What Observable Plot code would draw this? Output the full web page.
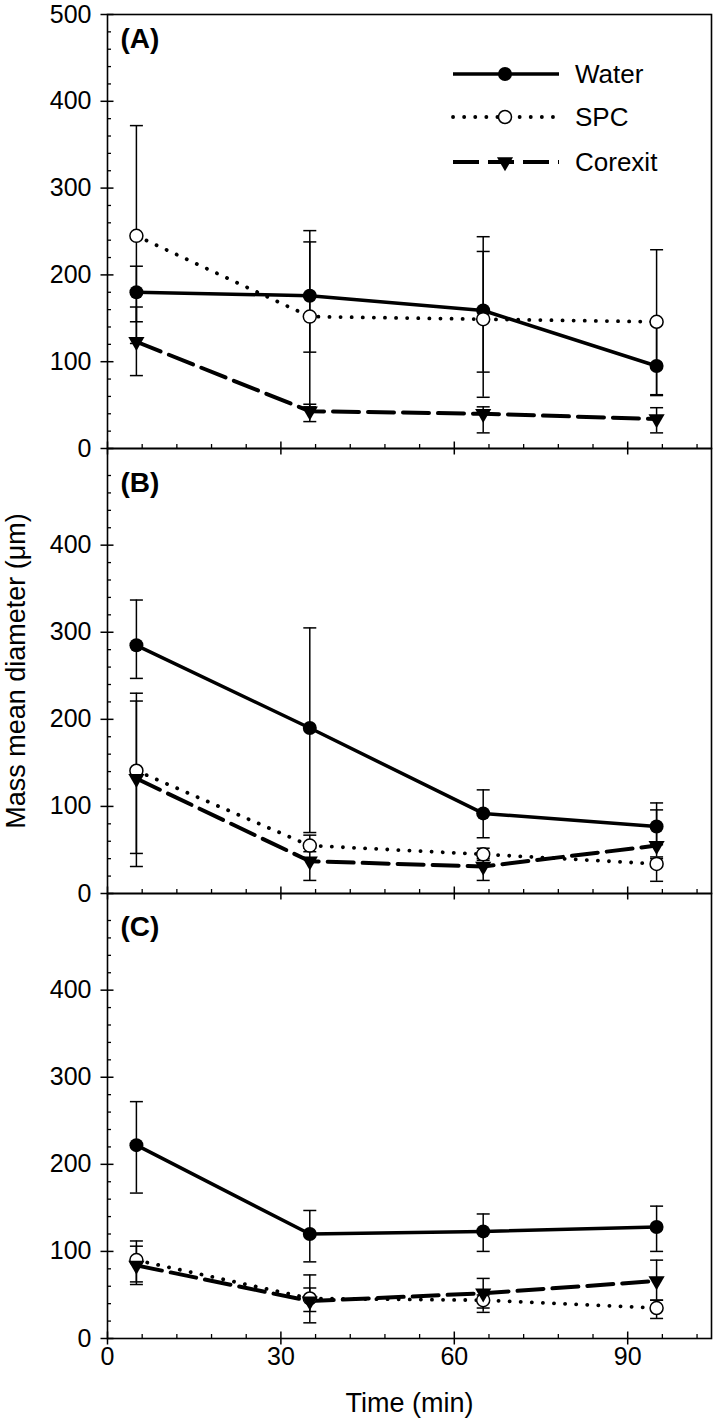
<!DOCTYPE html>
<html>
<head>
<meta charset="utf-8">
<script src="https://cdn.jsdelivr.net/npm/d3@7"></script>
<script src="https://cdn.jsdelivr.net/npm/@observablehq/plot@0.6"></script>
<style>
  html, body { margin: 0; padding: 0; background: white; }
  #fig { position: relative; width: 714px; height: 1419px; font-family: "Liberation Sans", Arial, sans-serif; }
  #fig > svg { position: absolute; left: 0; }
</style>
</head>
<body>
<div id="fig"></div>
<script>
// ---- data ----
const times = [5, 35, 65, 95];
const seriesNames = ["Water", "SPC", "Corexit"];
const panelLabels = ["(A)", "(B)", "(C)"];

// Panel A
const waterA = [180, 176, 159, 95];
const waterALo = [146, 111, 88, 61];
const waterAHi = [210, 251, 244, 145];
const spcA = [245, 152, 149, 146];
const spcALo = [121, 48, 59, 62];
const spcAHi = [372, 238, 227, 229];
const corA = [123, 43, 40, 34];
const corALo = [84, 31, 18, 18];
const corAHi = [163, 51, 48, 47];

// Panel B
const waterB = [285, 190, 92, 77];
const waterBLo = [247, 70, 64, 56];
const waterBHi = [337, 305, 119, 104];
const spcB = [141, 55, 45, 34];
const spcBLo = [46, 48, 38, 14];
const spcBHi = [230, 67, 52, 40];
const corB = [132, 37, 31, 55];
const corBLo = [31, 15, 15, 42];
const corBHi = [221, 52, 40, 96];

// Panel C
const waterC = [222, 120, 123, 128];
const waterCLo = [167, 88, 100, 100];
const waterCHi = [272, 147, 143, 152];
const spcC = [90, 46, 44, 35];
const spcCLo = [62, 31, 30, 23];
const spcCHi = [112, 58, 50, 44];
const corC = [84, 43, 52, 66];
const corCLo = [65, 18, 35, 44];
const corCHi = [106, 73, 69, 90];

const xTicks = [0, 30, 60, 90];
const xMinorTicks = [6, 12, 18, 24, 36, 42, 48, 54, 66, 72, 78, 84, 96, 102];
const yTicksA = [0, 100, 200, 300, 400, 500];
const yTicksBC = [0, 100, 200, 300, 400];
const yMinorTicks = [20, 40, 60, 80, 120, 140, 160, 180, 220, 240, 260, 280, 320, 340, 360, 380, 420, 440, 460, 480];

// ---- build tables ----
function rowsFor(vals, lo, hi, s) {
  return times.map((t, i) => ({t, v: vals[i], lo: lo[i], hi: hi[i], s}));
}
const panels = [
  {label: panelLabels[0], ymax: 500, yTicks: yTicksA, top: 0, height: 448, mt: 14, mb: 0, labelDy: 25,
   rows: [rowsFor(waterA, waterALo, waterAHi, "Water"), rowsFor(spcA, spcALo, spcAHi, "SPC"), rowsFor(corA, corALo, corAHi, "Corexit")]},
  {label: panelLabels[1], ymax: 511, yTicks: yTicksBC, top: 448, height: 445, mt: 0, mb: 0, labelDy: 35,
   rows: [rowsFor(waterB, waterBLo, waterBHi, "Water"), rowsFor(spcB, spcBLo, spcBHi, "SPC"), rowsFor(corB, corBLo, corBHi, "Corexit")]},
  {label: panelLabels[2], ymax: 511, yTicks: yTicksBC, top: 893, height: 526, mt: 0, mb: 81, labelDy: 34,
   rows: [rowsFor(waterC, waterCLo, waterCHi, "Water"), rowsFor(spcC, spcCLo, spcCHi, "SPC"), rowsFor(corC, corCLo, corCHi, "Corexit")]}
];

const capSymbol = {draw(ctx, size) { const w = 6.5; ctx.moveTo(-w, 0); ctx.lineTo(w, 0); }};
const FONT = "Liberation Sans, Arial, sans-serif";
const blank = () => "";

const fig = document.getElementById("fig");

panels.forEach((p, idx) => {
  const [water, spc, cor] = p.rows;
  const all = [...water, ...spc, ...cor];
  const marks = [
    // error bars
    Plot.ruleX(all, {x: "t", y1: "lo", y2: "hi", stroke: "black", strokeWidth: 1.5}),
    Plot.dot(all, {x: "t", y: "lo", symbol: capSymbol, r: 5, fill: "none", stroke: "black", strokeWidth: 1.5}),
    Plot.dot(all, {x: "t", y: "hi", symbol: capSymbol, r: 5, fill: "none", stroke: "black", strokeWidth: 1.5}),
    // lines
    Plot.line(water, {x: "t", y: "v", stroke: "black", strokeWidth: 3.5}),
    Plot.line(spc, {x: "t", y: "v", stroke: "black", strokeWidth: 3.8, strokeDasharray: "0.1,11", strokeLinecap: "round"}),
    Plot.line(cor, {x: "t", y: "v", stroke: "black", strokeWidth: 4, strokeDasharray: "26,9"}),
    // markers
    Plot.dot(water, {x: "t", y: "v", r: 7, fill: "black", stroke: "none"}),
    Plot.dot(spc, {x: "t", y: "v", r: 6.5, fill: "white", stroke: "black", strokeWidth: 1.5}),
    Plot.dot(cor, {x: "t", y: "v", symbol: "triangle", rotate: 180, r: 6, fill: "black", stroke: "none"}),
    // frame
    Plot.frame({stroke: "black", strokeWidth: 1.6}),
    // y axis
    Plot.axisY(p.yTicks, {tickSize: 0, tickPadding: 16, fontSize: 25, label: null, fontFamily: FONT}),
    Plot.axisY(p.yTicks, {tickSize: 13, dx: 6.5, tickFormat: blank, label: null, strokeWidth: 1.5}),
    Plot.axisY(yMinorTicks.filter(v => v < p.ymax), {tickSize: 4, dx: 4, tickFormat: blank, label: null, strokeWidth: 1.3}),
    // x axis ticks (crossing / inward)
    Plot.axisX(xTicks, {tickSize: 13, dy: -6.5, tickFormat: blank, label: null, strokeWidth: 1.5}),
    Plot.axisX(xMinorTicks, {tickSize: 4, dy: -4, tickFormat: blank, label: null, strokeWidth: 1.3}),
    // panel label
    Plot.text([p.label], {frameAnchor: "top-left", dx: 13, dy: p.labelDy, textAnchor: "start", lineAnchor: "middle",
      fontWeight: "bold", fontSize: 28, fontFamily: FONT})
  ];
  if (idx === 1) {
    marks.push(Plot.text(["Mass mean diameter (μm)"], {frameAnchor: "left", dx: -91, rotate: -90,
      textAnchor: "middle", lineAnchor: "middle", fontSize: 27, fontFamily: FONT}));
  }
  if (idx === 2) {
    marks.push(Plot.axisX(xTicks, {tickSize: 0, tickPadding: 9, fontSize: 25, label: null, fontFamily: FONT}));
    marks.push(Plot.text(["Time (min)"], {frameAnchor: "bottom", dy: 65, lineAnchor: "middle", fontSize: 27, fontFamily: FONT}));
  }
  const svg = Plot.plot({
    width: 714,
    height: p.height,
    marginLeft: 107,
    marginRight: 3,
    marginTop: p.mt,
    marginBottom: p.mb,
    x: {domain: [0, 104.5]},
    y: {domain: [0, p.ymax]},
    style: {overflow: "visible", background: "transparent", fontFamily: FONT, fontSize: "25px", color: "black"},
    marks
  });
  svg.style.top = p.top + "px";
  fig.appendChild(svg);
});

// ---- legend (drawn over panel A) ----
const leg = d3.create("svg").attr("width", 714).attr("height", 200)
  .style("position", "absolute").style("left", "0px").style("top", "0px").style("overflow", "visible");
const rowY = [74, 117, 162];
seriesNames.forEach((name, i) => {
  const g = leg.append("g").attr("transform", `translate(0,${rowY[i]})`);
  const line = g.append("line").attr("x1", 453).attr("x2", 559).attr("y1", 0).attr("y2", 0).attr("stroke", "black");
  if (name === "Water") {
    line.attr("stroke-width", 3.5);
    g.append("circle").attr("cx", 505).attr("cy", 0).attr("r", 7).attr("fill", "black");
  } else if (name === "SPC") {
    line.attr("stroke-width", 3.8).attr("stroke-dasharray", "0.1,11").attr("stroke-linecap", "round");
    g.append("circle").attr("cx", 505).attr("cy", 0).attr("r", 6.5).attr("fill", "white").attr("stroke", "black").attr("stroke-width", 1.5);
  } else {
    line.attr("stroke-width", 4).attr("stroke-dasharray", "26,9");
    g.append("path").attr("d", d3.symbol(d3.symbolTriangle, Math.PI * 6 * 6)())
      .attr("transform", "translate(505,0) rotate(180)").attr("fill", "black");
  }
  g.append("text").attr("x", 575).attr("y", 0).attr("dy", "0.35em").attr("font-size", 26)
    .attr("font-family", FONT).attr("fill", "black").text(name);
});
fig.appendChild(leg.node());
</script>
</body>
</html>
